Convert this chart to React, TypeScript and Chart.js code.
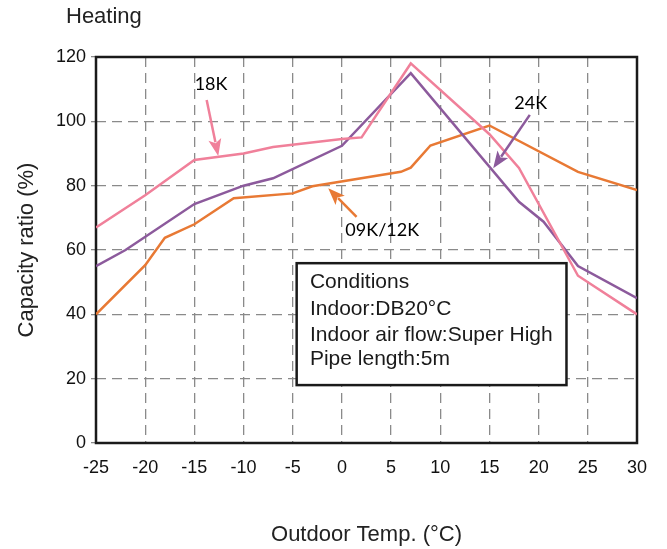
import React, { useEffect, useRef } from "react";
import { Chart, registerables } from "chart.js";

Chart.register(...registerables);

// ---- Data ----
const xTicks = [-25, -20, -15, -10, -5, 0, 5, 10, 15, 20, 25, 30];
const yTicks = [0, 20, 40, 60, 80, 100, 120];

const temp18K = [-25, -20, -15, -10, -7, 0, 2, 7, 15, 18, 24, 30];
const ratio18K = [67, 77, 88, 90, 92, 94.5, 95, 118, 96, 85.5, 52, 40];

const temp24K = [-25, -22, -15, -10, -7, 0, 7, 18, 20.5, 24, 30];
const ratio24K = [55, 60, 74.3, 80, 82.3, 92.4, 115, 75, 68.8, 55, 45];

const temp0912K = [-25, -20, -18, -15, -11, -5, -3, 6, 7, 9, 15, 24, 30];
const ratio0912K = [40, 55.3, 63.8, 68, 76.1, 77.6, 79.8, 84.3, 85.6, 92.5, 98.7, 84.3, 78.6];

const seriesNames = ["18K", "24K", "09K/12K"];
const conditionLines = [
  "Conditions",
  "Indoor:DB20°C",
  "Indoor air flow:Super High",
  "Pipe length:5m",
];

// ---- Styles / annotation placement (data coordinates) ----
const COLORS = { pink: "#F0809A", purple: "#8C5A9C", orange: "#E87934" };
const labelAnno = [
  { text: seriesNames[0], x: -13.3, y: 111.5, color: COLORS.pink, tail: [-13.75, 106.6], tip: [-12.57, 89.2] },
  { text: seriesNames[1], x: 19.2, y: 105.6, color: COLORS.purple, tail: [19.1, 102], tip: [15.38, 85.4] },
  { text: seriesNames[2], x: 4.1, y: 66.2, color: COLORS.orange, tail: [1.49, 70.3], tip: [-1.39, 79.2] },
];
const boxAnno = { x1: -4.6, x2: 22.83, y1: 55.9, y2: 18.0, textX: -3.25, lineYs: [50.1, 41.6, 33.6, 26.1] };

const ARIAL = '"Liberation Sans", Arial, sans-serif';

function toPts(xs: number[], ys: number[]) {
  return xs.map((x, i) => ({ x, y: ys[i] }));
}

function drawArrow(ctx: CanvasRenderingContext2D, x1: number, y1: number, x2: number, y2: number, color: string) {
  const ang = Math.atan2(y2 - y1, x2 - x1);
  const headLen = 17;
  const headHalf = 6.5;
  const bx = x2 - headLen * Math.cos(ang);
  const by = y2 - headLen * Math.sin(ang);
  ctx.save();
  ctx.strokeStyle = color;
  ctx.fillStyle = color;
  ctx.lineWidth = 2.5;
  ctx.beginPath();
  ctx.moveTo(x1, y1);
  ctx.lineTo(bx + 3 * Math.cos(ang), by + 3 * Math.sin(ang));
  ctx.stroke();
  ctx.beginPath();
  ctx.moveTo(x2, y2);
  ctx.lineTo(bx + headHalf * Math.sin(ang), by - headHalf * Math.cos(ang));
  ctx.lineTo(bx + 4 * Math.cos(ang), by + 4 * Math.sin(ang));
  ctx.lineTo(bx - headHalf * Math.sin(ang), by + headHalf * Math.cos(ang));
  ctx.closePath();
  ctx.fill();
  ctx.restore();
}

const decorPlugin = {
  id: "decor",
  beforeDatasetsDraw(chart: any) {
    const { ctx, chartArea } = chart;
    ctx.save();
    ctx.strokeStyle = "#1a1a1a";
    ctx.lineWidth = 2.5;
    ctx.strokeRect(chartArea.left, chartArea.top, chartArea.right - chartArea.left, chartArea.bottom - chartArea.top);
    ctx.restore();
  },
  afterDatasetsDraw(chart: any) {
    const { ctx } = chart;
    const xs = chart.scales.x;
    const ys = chart.scales.y;
    const px = (v: number) => xs.getPixelForValue(v);
    const py = (v: number) => ys.getPixelForValue(v);

    // Series labels and arrows
    labelAnno.forEach((a) => {
      drawArrow(ctx, px(a.tail[0]), py(a.tail[1]), px(a.tip[0]), py(a.tip[1]), a.color);
      ctx.save();
      ctx.fillStyle = "#000";
      ctx.font = '18px Lato, "Open Sans", sans-serif';
      ctx.textAlign = "center";
      ctx.textBaseline = "middle";
      ctx.fillText(a.text, px(a.x), py(a.y));
      ctx.restore();
    });

    // Conditions box
    const bx1 = px(boxAnno.x1), bx2 = px(boxAnno.x2), by1 = py(boxAnno.y1), by2 = py(boxAnno.y2);
    ctx.save();
    ctx.fillStyle = "#fff";
    ctx.fillRect(bx1, by1, bx2 - bx1, by2 - by1);
    ctx.strokeStyle = "#1a1a1a";
    ctx.lineWidth = 2.5;
    ctx.strokeRect(bx1, by1, bx2 - bx1, by2 - by1);
    ctx.fillStyle = "#1a1a1a";
    ctx.font = "21px " + ARIAL;
    ctx.textAlign = "left";
    ctx.textBaseline = "middle";
    conditionLines.forEach((t, i) => ctx.fillText(t, px(boxAnno.textX), py(boxAnno.lineYs[i])));
    ctx.restore();

    // Heading
    ctx.save();
    ctx.fillStyle = "#222";
    ctx.font = "22px " + ARIAL;
    ctx.textAlign = "left";
    ctx.textBaseline = "middle";
    ctx.fillText("Heating", 66, 17);
    ctx.restore();
  },
};

export default function App() {
  const canvasRef = useRef<HTMLCanvasElement | null>(null);

  useEffect(() => {
    document.body.style.margin = "0";
    const canvas = canvasRef.current;
    if (!canvas) return;
    const chart = new Chart(canvas, {
      type: "line",
      data: {
        datasets: [
          { label: seriesNames[0], data: toPts(temp18K, ratio18K), borderColor: COLORS.pink, borderWidth: 2.5, pointRadius: 0, tension: 0 },
          { label: seriesNames[1], data: toPts(temp24K, ratio24K), borderColor: COLORS.purple, borderWidth: 2.5, pointRadius: 0, tension: 0 },
          { label: seriesNames[2], data: toPts(temp0912K, ratio0912K), borderColor: COLORS.orange, borderWidth: 2.5, pointRadius: 0, tension: 0 },
        ],
      },
      options: {
        animation: false,
        responsive: true,
        maintainAspectRatio: false,
        layout: { padding: { top: 57, right: 30, left: 0, bottom: 0 } },
        plugins: { legend: { display: false }, tooltip: { enabled: false }, title: { display: false } },
        scales: {
          x: {
            type: "linear",
            min: -25,
            max: 30,
            afterBuildTicks: (scale: any) => {
              scale.ticks = xTicks.map((v) => ({ value: v }));
            },
            afterFit: (scale: any) => {
              scale.height = 106;
            },
            ticks: {
              color: "#111",
              font: { family: ARIAL, size: 18 },
              padding: 14,
              maxRotation: 0,
              autoSkip: false,
            },
            grid: {
              color: "#8a8a8a",
              lineWidth: 1.3,
              drawTicks: false,
            },
            border: { display: false, dash: [10, 6] },
            title: {
              display: true,
              text: "Outdoor Temp. (°C)",
              color: "#222",
              font: { family: ARIAL, size: 22 },
              padding: { top: 0, bottom: 1 },
            },
          },
          y: {
            type: "linear",
            min: 0,
            max: 120,
            afterBuildTicks: (scale: any) => {
              scale.ticks = yTicks.map((v) => ({ value: v }));
            },
            afterFit: (scale: any) => {
              scale.width = 96;
            },
            ticks: {
              color: "#111",
              font: { family: ARIAL, size: 18 },
              padding: 5,
            },
            grid: {
              color: "#8a8a8a",
              lineWidth: 1.3,
              drawTicks: true,
              tickLength: 5,
              tickColor: "#8a8a8a",
              tickBorderDash: [],
            },
            border: { display: false, dash: [10, 6] },
            title: {
              display: true,
              text: "Capacity ratio (%)",
              color: "#222",
              font: { family: ARIAL, size: 22 },
              padding: { top: 14, bottom: 0 },
            },
          },
        },
      },
      plugins: [decorPlugin],
    } as any);
    return () => chart.destroy();
  }, []);

  return (
    <div style={{ position: "absolute", left: 0, top: 0, width: 667, height: 549 }}>
      <canvas ref={canvasRef} />
    </div>
  );
}
